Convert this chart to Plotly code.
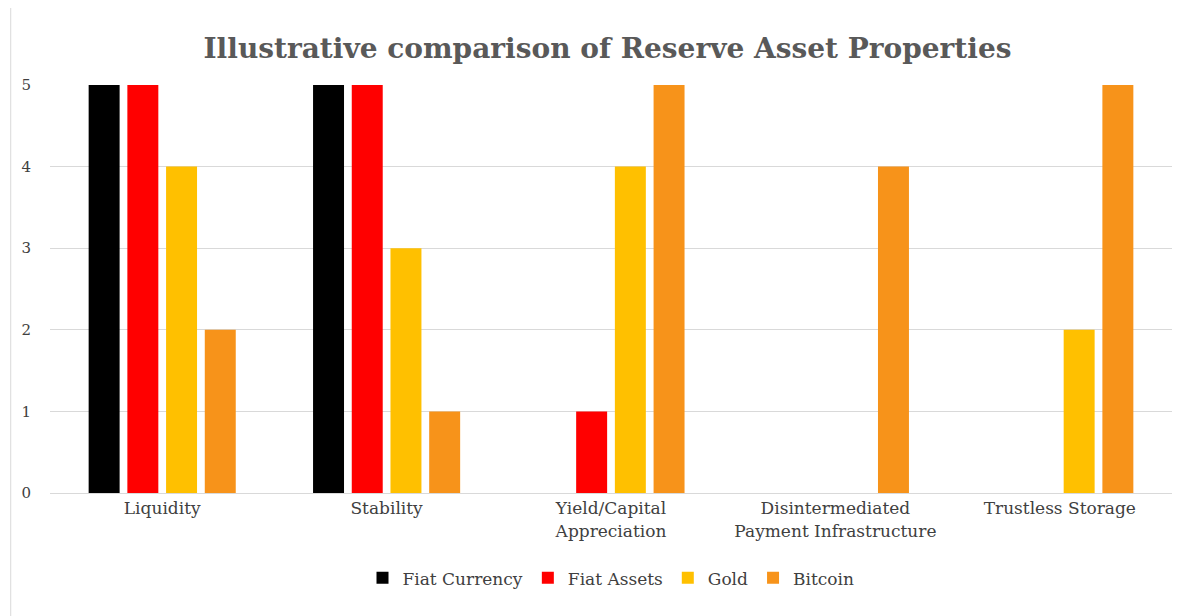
import plotly.graph_objects as go

categories = ["Liquidity", "Stability", "Yield/Capital<br>Appreciation",
              "Disintermediated<br>Payment Infrastructure", "Trustless Storage"]
fiat_currency = [5, 5, 0, 0, 0]
fiat_assets = [5, 5, 1, 0, 0]
gold = [4, 3, 4, 0, 2]
bitcoin = [2, 1, 5, 4, 5]

series = [("Fiat Currency", fiat_currency, "#000000"),
          ("Fiat Assets", fiat_assets, "#FF0000"),
          ("Gold", gold, "#FFC000"),
          ("Bitcoin", bitcoin, "#F7931A")]

fig = go.Figure()
for name, vals, col in series:
    fig.add_trace(go.Bar(name=name, x=categories, y=vals, marker_color=col,
                         marker_line_width=0))

font = "DejaVu Serif, Liberation Serif, serif"
fig.update_layout(
    width=1199, height=616,
    paper_bgcolor="white", plot_bgcolor="white",
    font=dict(family=font, size=17, color="#404040"),
    title=dict(text="<b>Illustrative comparison of Reserve Asset Properties</b>",
               x=0.5, xanchor="center", y=0.935, yanchor="middle",
               font=dict(size=28, color="#595959", family=font)),
    barmode="group", bargap=0.31, bargroupgap=0.2,
    margin=dict(l=42, r=35, t=77, b=131),
    xaxis=dict(showline=True, linecolor="#d9d9d9", linewidth=1, ticks="",
               tickfont=dict(size=17, color="#404040")),
    yaxis=dict(range=[0, 5], dtick=1, showgrid=True, gridcolor="#d9d9d9",
               zeroline=False, tickfont=dict(size=15, color="#404040"),
               ticklabelstandoff=18),
    legend=dict(orientation="h", x=0.5, xanchor="center", y=-0.165, yanchor="top",
                font=dict(size=17, color="#404040"), itemwidth=30),
    shapes=[dict(type="rect", xref="paper", yref="paper", x0=-0.035, x1=1.03,
                 y0=-0.32, y1=1.19, line=dict(color="#d9d9d9", width=1))],
)
fig.write_html("out.html")
